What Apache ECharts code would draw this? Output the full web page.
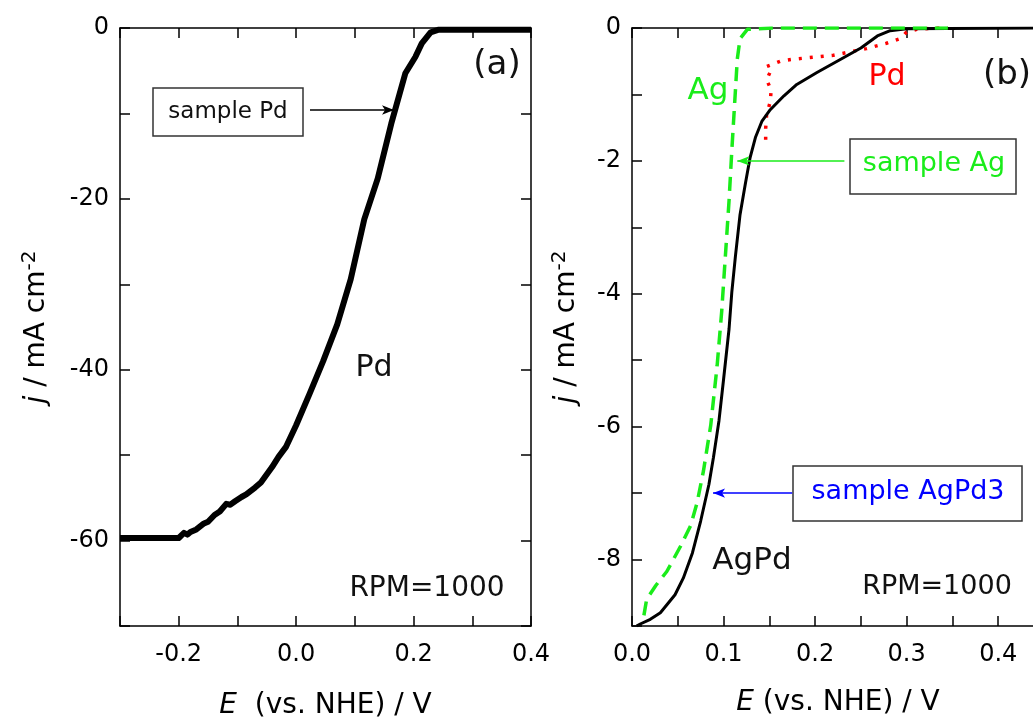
<!DOCTYPE html>
<html>
<head>
<meta charset="utf-8">
<script src="https://cdn.jsdelivr.net/npm/echarts@6/dist/echarts.min.js"></script>
<style>
  html, body { margin: 0; padding: 0; background: #fff; }
  #chart { width: 1033px; height: 717px; }
</style>
</head>
<body>
<div id="chart"></div>
<script>
// ---------------------------------------------------------------------------
// Data
// ---------------------------------------------------------------------------
// (a) sample Pd, RPM=1000
const pdE = [-0.3, -0.25, -0.2, -0.191, -0.185, -0.18, -0.17, -0.157, -0.15, -0.139, -0.13, -0.119, -0.112,
  -0.104, -0.093, -0.085, -0.07, -0.06, -0.041, -0.03, -0.017, 0, 0.023, 0.046, 0.07, 0.093, 0.116, 0.139,
  0.162, 0.186, 0.203, 0.214, 0.229, 0.243, 0.3, 0.4];
const pdJ = [-59.7, -59.7, -59.7, -59.1, -59.3, -59.0, -58.7, -58.0, -57.8, -57.0, -56.6, -55.7, -55.8,
  -55.4, -54.9, -54.6, -53.8, -53.2, -51.4, -50.2, -49.0, -46.5, -42.8, -39.0, -34.7, -29.4, -22.4, -17.6,
  -11.2, -5.3, -3.4, -1.8, -0.5, -0.2, -0.2, -0.2];

// (b) AgPd (black), Ag (green dashed), Pd (red dotted)
const agpdE = [0.005, 0.009, 0.02, 0.031, 0.047, 0.056, 0.066, 0.075, 0.084, 0.089, 0.095, 0.1, 0.106, 0.109,
  0.113, 0.118, 0.124, 0.129, 0.135, 0.142, 0.151, 0.166, 0.18, 0.202, 0.228, 0.25, 0.268, 0.282, 0.3, 0.45];
const agpdJ = [-9.0, -8.97, -8.9, -8.8, -8.53, -8.28, -7.9, -7.42, -6.87, -6.46, -5.91, -5.29, -4.53, -3.98,
  -3.43, -2.81, -2.33, -1.95, -1.64, -1.4, -1.23, -1.02, -0.85, -0.67, -0.47, -0.3, -0.12, -0.04, -0.01, 0];

const agE = [0.013, 0.016, 0.026, 0.038, 0.053, 0.064, 0.071, 0.078, 0.086, 0.093, 0.098, 0.102, 0.106, 0.109,
  0.112, 0.115, 0.118, 0.126, 0.155, 0.345];
const agJ = [-8.84, -8.6, -8.39, -8.18, -7.8, -7.49, -7.15, -6.67, -5.98, -5.08, -4.26, -3.43, -2.6, -1.85,
  -1.16, -0.47, -0.16, -0.02, 0, 0];

const pdbE = [0.146, 0.146, 0.147, 0.151, 0.152, 0.147, 0.151, 0.147, 0.162, 0.176, 0.198, 0.22, 0.238, 0.256,
  0.278, 0.293, 0.3, 0.311, 0.33, 0.345];
const pdbJ = [-1.68, -1.51, -1.31, -1.11, -0.93, -0.78, -0.66, -0.58, -0.5, -0.47, -0.44, -0.41, -0.36, -0.31,
  -0.23, -0.16, -0.06, -0.02, 0, 0];

const pairs = (xs, ys) => xs.map((x, i) => [x, ys[i]]);

// ---------------------------------------------------------------------------
// Axis helpers
// ---------------------------------------------------------------------------
const FONT = "DejaVu Sans";
const GREEN = "#1aec1a";
const frameLine = { show: true, onZero: false, lineStyle: { color: "#000", width: 1.5 } };
const inTick = { show: true, inside: true, length: 10, lineStyle: { color: "#000", width: 1.5 } };

function isStep(v, step) {
  const r = v / step;
  return Math.abs(r - Math.round(r)) < 1e-6;
}

function xFmt(step) {
  return (v) => {
    if (!isStep(v, step)) return "";
    if (Math.abs(v) < 1e-9) return "0.0";
    return v.toFixed(1);
  };
}
function yFmt(step) {
  return (v) => (isStep(v, step) ? String(Math.round(v)) : "");
}

function xAxisPair(grid, min, max, interval, labelStep, nameGap) {
  const base = {
    type: "value", gridIndex: grid, min, max, interval,
    axisLine: frameLine, axisTick: inTick, splitLine: { show: false },
  };
  return [
    {
      ...base, position: "bottom",
      axisLabel: { show: true, margin: 17, color: "#000", fontSize: 24, fontFamily: FONT, formatter: xFmt(labelStep) },
      name: "{i|E}" + (grid === 0 ? "  " : " ") + "(vs. NHE) / V",
      nameLocation: "middle", nameGap,
      nameTextStyle: {
        color: "#000", fontSize: 28, fontFamily: FONT,
        rich: { i: { fontStyle: "italic", fontSize: 28, fontFamily: FONT, color: "#000" } },
      },
    },
    { ...base, position: "top", axisLabel: { show: false } },
  ];
}

function yAxisPair(grid, min, max, interval, labelStep, nameGap) {
  const base = {
    type: "value", gridIndex: grid, min, max, interval,
    axisLine: frameLine, axisTick: inTick, splitLine: { show: false },
  };
  return [
    {
      ...base, position: "left",
      axisLabel: { show: true, margin: 11, color: "#000", fontSize: 24, fontFamily: FONT, formatter: yFmt(labelStep) },
      name: "{i|j} / mA cm{sup|-2}",
      nameLocation: "middle", nameGap,
      nameTextStyle: {
        color: "#000", fontSize: 28, fontFamily: FONT,
        rich: {
          i: { fontStyle: "italic", fontSize: 28, fontFamily: FONT, color: "#000" },
          sup: { fontSize: 20, fontFamily: FONT, color: "#000", verticalAlign: "top", padding: [0, 0, 14, 0] },
        },
      },
    },
    { ...base, position: "right", axisLabel: { show: false } },
  ];
}

// ---------------------------------------------------------------------------
// Annotations (text, boxes)
// ---------------------------------------------------------------------------
function label(text, x, y, size, color) {
  return {
    type: "text", x, y, silent: true,
    style: { text, fill: color || "#111", font: `${size}px "${FONT}"`, align: "center", verticalAlign: "middle" },
  };
}
function box(x, y, w, h) {
  return {
    type: "rect", silent: true,
    shape: { x, y, width: w, height: h },
    style: { fill: "#fff", stroke: "#333", lineWidth: 1.5 },
  };
}

function arrow(color, from, to) {
  return {
    silent: true,
    symbol: ["none", "arrow"],
    symbolSize: [7, 12],
    lineStyle: { color, width: 1.5, type: "solid" },
    itemStyle: { color },
    label: { show: false },
    emphasis: { disabled: true },
    data: [[{ coord: from }, { coord: to }]],
  };
}

const chart = echarts.init(document.getElementById("chart"));

const option = {
  animation: false,
  backgroundColor: "#fff",
  textStyle: { fontFamily: FONT },
  grid: [
    { left: 120, top: 28, width: 411, height: 598, outerBoundsMode: "none" },
    { left: 632, top: 28, width: 412, height: 598, outerBoundsMode: "none" },
  ],
  xAxis: [
    ...xAxisPair(0, -0.3, 0.4, 0.1, 0.2, 66),
    ...xAxisPair(1, 0, 0.45, 0.05, 0.1, 63),
  ],
  yAxis: [
    ...yAxisPair(0, -70, 0, 10, 20, 66),
    ...yAxisPair(1, -9, 0, 1, 2, 48),
  ],
  series: [
    {
      name: "Pd (a)", type: "line", xAxisIndex: 0, yAxisIndex: 0,
      data: pairs(pdE, pdJ), showSymbol: false,
      lineStyle: { color: "#000", width: 6, join: "round" },
      markLine: arrow("#000", [0.0236, -9.6], [0.1667, -9.6]),
    },
    {
      name: "Pd (b)", type: "line", xAxisIndex: 2, yAxisIndex: 2,
      data: pairs(pdbE, pdbJ), showSymbol: false,
      lineStyle: { color: "#ff0000", width: 3.5, type: [3, 8] },
    },
    {
      name: "AgPd", type: "line", xAxisIndex: 2, yAxisIndex: 2,
      data: pairs(agpdE, agpdJ), showSymbol: false,
      lineStyle: { color: "#000", width: 3 },
      markLine: arrow("#0000ff", [0.175, -7.0], [0.0885, -7.0]),
    },
    {
      name: "Ag", type: "line", xAxisIndex: 2, yAxisIndex: 2,
      data: pairs(agE, agJ), showSymbol: false,
      lineStyle: { color: GREEN, width: 3.5, type: [14, 8] },
      markLine: arrow(GREEN, [0.232, -2.0], [0.115, -2.0]),
    },
  ],
  graphic: [
    // panel (a)
    box(153, 88, 150, 48),
    label("sample Pd", 228, 112, 23),
    label("(a)", 497, 65, 34),
    label("Pd", 374, 368, 30),
    label("RPM=1000", 427, 589, 28),
    // panel (b)
    box(850, 139, 166, 55),
    label("sample Ag", 934, 164, 27, GREEN),
    box(793, 466, 229, 55),
    label("sample AgPd3", 908, 492, 27, "#0000ff"),
    label("Ag", 708, 91, 31, GREEN),
    label("Pd", 887, 77, 30, "#ff0000"),
    label("(b)", 1007, 75, 34),
    label("AgPd", 752, 561, 31),
    label("RPM=1000", 937, 587, 27),
  ],
};

chart.setOption(option);
</script>
</body>
</html>
